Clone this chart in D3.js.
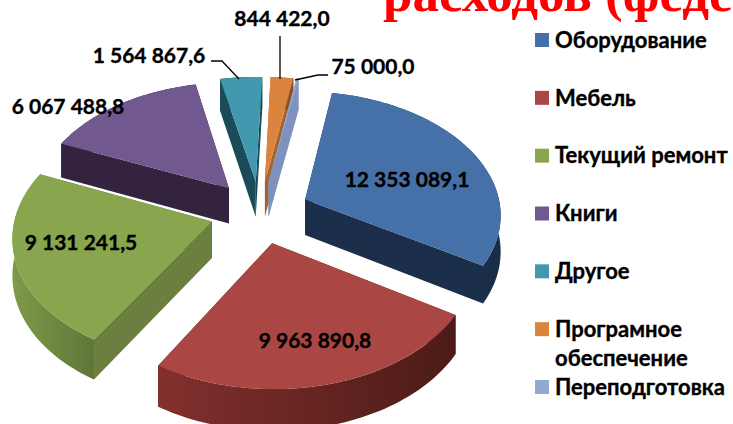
<!DOCTYPE html>
<html>
<head>
<meta charset="utf-8">
<script src="https://cdn.jsdelivr.net/npm/d3@7"></script>
<style>
html,body{margin:0;padding:0;background:#fff;overflow:hidden}
text{font-family:Lato,"Open Sans",sans-serif;font-weight:700;fill:#000;stroke:#000;stroke-width:0.35px}
</style>
</head>
<body>
<div id="chart"></div>
<script>
var categories = ["Оборудование","Мебель","Текущий ремонт","Книги","Другое","Програмное обеспечение","Переподготовка"];
var values = [12353089.1,9963890.8,9131241.5,6067488.8,1564867.6,844422.0,75000.0];
var valueLabels = ["12 353 089,1","9 963 890,8","9 131 241,5","6 067 488,8","1 564 867,6","844 422,0","75 000,0"];

var topColors = ["#4571a8","#aa4643","#89a54e","#71588f","#4198af","#db843d","#93a9cf"];
var rimLeft = ["#1c3150","#82302d","#7f9a48","#33233f","#1b4a58","#9a5c28","#8095c0"];
var rimRight = ["#1a2d48","#4c1b17","#60763a","#33233f","#1b4a58","#8a5020","#7f92be"];
var wallColors = ["#1b2f4b","#4c1b17","#6b8040","#33233f","#1b4a58","#a5642c","#7f92be"];

var width = 733, height = 424;
var cx = 260, cy = 212, radius = 196, tilt = 0.625, depth = 36, explode = 50, dist = 1787;
var startDeg = 10.3;

var svg = d3.select("#chart").append("svg")
    .attr("width",width)
    .attr("height",height)
    .style("display","block");

var defs = svg.append("defs");

var pie = d3.pie().sort(null).startAngle(startDeg*Math.PI/180).endAngle((startDeg+360)*Math.PI/180);
var slices = pie(values);

// perspective projection of a point on the exploded, tilted pie
function project(a,r,z,mid){
    var X = r*Math.sin(a)+explode*Math.sin(mid);
    var Y = -r*Math.cos(a)-explode*Math.cos(mid);
    var f = dist/(dist-Y);
    return [cx+X*f, cy+Y*tilt*f+z*f];
}
var line = d3.line();

function rimPoints(d,z){
    var mid = (d.startAngle+d.endAngle)/2;
    var n = Math.max(2,Math.ceil((d.endAngle-d.startAngle)*40));
    return d3.range(n+1).map(function(i){
        return project(d.startAngle+(d.endAngle-d.startAngle)*i/n,radius,z,mid);
    });
}
function center(d,z){
    return project(0,0,z,(d.startAngle+d.endAngle)/2);
}

// painter's order: far slices first
var order = slices.slice().sort(function(p,q){
    var mp=(p.startAngle+p.endAngle)/2, mq=(q.startAngle+q.endAngle)/2;
    return (-Math.cos(mp))-(-Math.cos(mq));
});

order.forEach(function(d){
    var g = svg.append("g");
    var top = rimPoints(d,0), low = rimPoints(d,depth);
    var c0 = center(d,0), c1 = center(d,depth);
    var wall = wallColors[d.index];
    g.append("path").attr("d",line([c0,top[0],low[0],c1])+"Z").attr("fill",wall);
    g.append("path").attr("d",line([c0,top[top.length-1],low[low.length-1],c1])+"Z").attr("fill",wall);
    var grad = defs.append("linearGradient").attr("id","rim"+d.index);
    grad.append("stop").attr("offset",0).attr("stop-color",rimLeft[d.index]);
    grad.append("stop").attr("offset",1).attr("stop-color",rimRight[d.index]);
    g.append("path").attr("d",line(top.concat(low.slice().reverse()))+"Z").attr("fill","url(#rim"+d.index+")");
    g.append("path").attr("d",line([c0].concat(top))+"Z").attr("fill",topColors[d.index]);
});

// value labels, placed by hand like the original
var labelPos = [[407,180],[315,341],[81,243],[68,107],[149,56],[282,19],[373,67]];
svg.selectAll("text.val").data(valueLabels).enter().append("text")
    .attr("class","val")
    .attr("x",function(d,i){return labelPos[i][0];})
    .attr("y",function(d,i){return labelPos[i][1];})
    .attr("dy","0.35em")
    .attr("text-anchor","middle")
    .style("font-size","21px")
    .text(function(d){return d;});

// leader lines
var leaders = [[[211,61],[222,61],[239,79]],[[280,36],[280,79]],[[328,75],[318,75],[295,80]]];
svg.selectAll("path.leader").data(leaders).enter().append("path")
    .attr("class","leader")
    .attr("d",function(d){return line(d);})
    .attr("fill","none")
    .attr("stroke","#000")
    .attr("stroke-width",1.3);

// legend
var legendY = d3.scalePoint().domain(d3.range(7)).range([40,387]);
var legend = svg.selectAll("g.leg").data(categories).enter().append("g").attr("class","leg");
legend.append("rect")
    .attr("x",535)
    .attr("y",function(d,i){return legendY(i)-7;})
    .attr("width",14)
    .attr("height",14)
    .attr("fill",function(d,i){return topColors[i];});
legend.append("text")
    .attr("x",555)
    .attr("y",function(d,i){return legendY(i);})
    .attr("dy","0.35em")
    .style("font-size","22px")
    .each(function(d){
        var el = d3.select(this);
        d.split(" ").length>1 && d!="Текущий ремонт"
            ? d.split(" ").forEach(function(w,j){
                el.append("tspan").attr("x",555).attr("dy",j?"1.32em":"0.35em").text(w);
            })
            : el.text(d);
    });

// title, cut by the window in the source picture
svg.append("text")
    .attr("x",383)
    .attr("y",11)
    .style("font-family","'Liberation Serif',serif")
    .style("font-size","53px")
    .style("stroke","none")
    .style("fill","#ff0000")
    .text("расходов (феде");
</script>
</body>
</html>
